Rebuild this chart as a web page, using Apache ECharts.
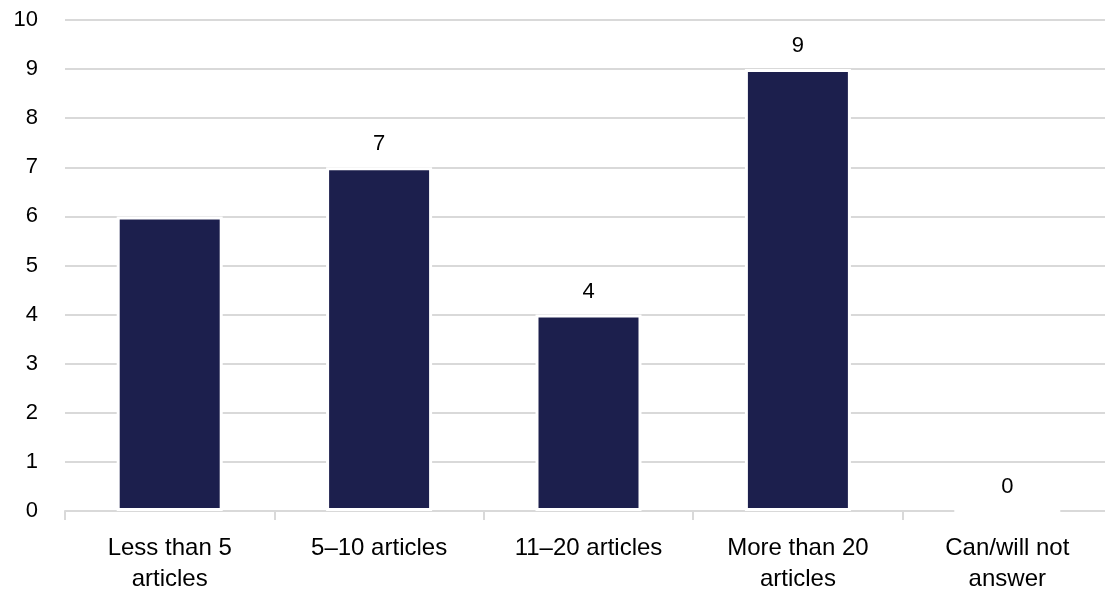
<!DOCTYPE html>
<html>
<head>
<meta charset="utf-8">
<script src="https://cdn.jsdelivr.net/npm/echarts@6/dist/echarts.min.js"></script>
<style>
  html, body { margin: 0; padding: 0; background: #ffffff; }
  #chart { width: 1105px; height: 589px; }
</style>
</head>
<body>
<div id="chart"></div>
<script>
// Number of articles per respondent group
const categories = ['Less than 5\narticles', '5\u201310 articles', '11\u201320 articles', 'More than 20\narticles', 'Can/will not\nanswer'];
const counts = [6, 7, 4, 9, 0];
const showValue = [false, true, true, true, true];
const yTicks = [0, 1, 2, 3, 4, 5, 6, 7, 8, 9, 10];

const FONT = '"Liberation Sans", Arial, Helvetica, sans-serif';
const chart = echarts.init(document.getElementById('chart'), null, { renderer: 'canvas' });

chart.setOption({
  animation: false,
  backgroundColor: '#ffffff',
  grid: {
    left: 65, width: 1047, top: 20, bottom: 78,
    containLabel: false, outerBoundsMode: 'none'
  },
  xAxis: {
    type: 'category',
    data: categories,
    axisLine: { show: true, lineStyle: { color: '#d9d9d9', width: 2 } },
    axisTick: { show: true, alignWithLabel: false, length: 9, lineStyle: { color: '#d9d9d9', width: 2 } },
    axisLabel: {
      color: '#000000', fontFamily: FONT, fontSize: 24, lineHeight: 31, margin: 22, interval: 0
    }
  },
  yAxis: {
    type: 'value',
    min: yTicks[0],
    max: yTicks[yTicks.length - 1],
    interval: 1,
    axisLine: { show: false },
    axisTick: { show: false },
    axisLabel: { color: '#000000', fontFamily: FONT, fontSize: 22, margin: 27 },
    splitLine: { show: true, lineStyle: { color: '#d9d9d9', width: 2 } }
  },
  series: [{
    type: 'bar',
    data: counts.map((v, i) => ({
      value: v,
      label: { show: showValue[i] }
    })),
    barWidth: 106,
    itemStyle: { color: '#1c1f4d', borderColor: '#ffffff', borderWidth: 3 },
    label: {
      position: 'top', distance: 12, color: '#000000', fontFamily: FONT, fontSize: 22
    }
  }]
});
</script>
</body>
</html>
